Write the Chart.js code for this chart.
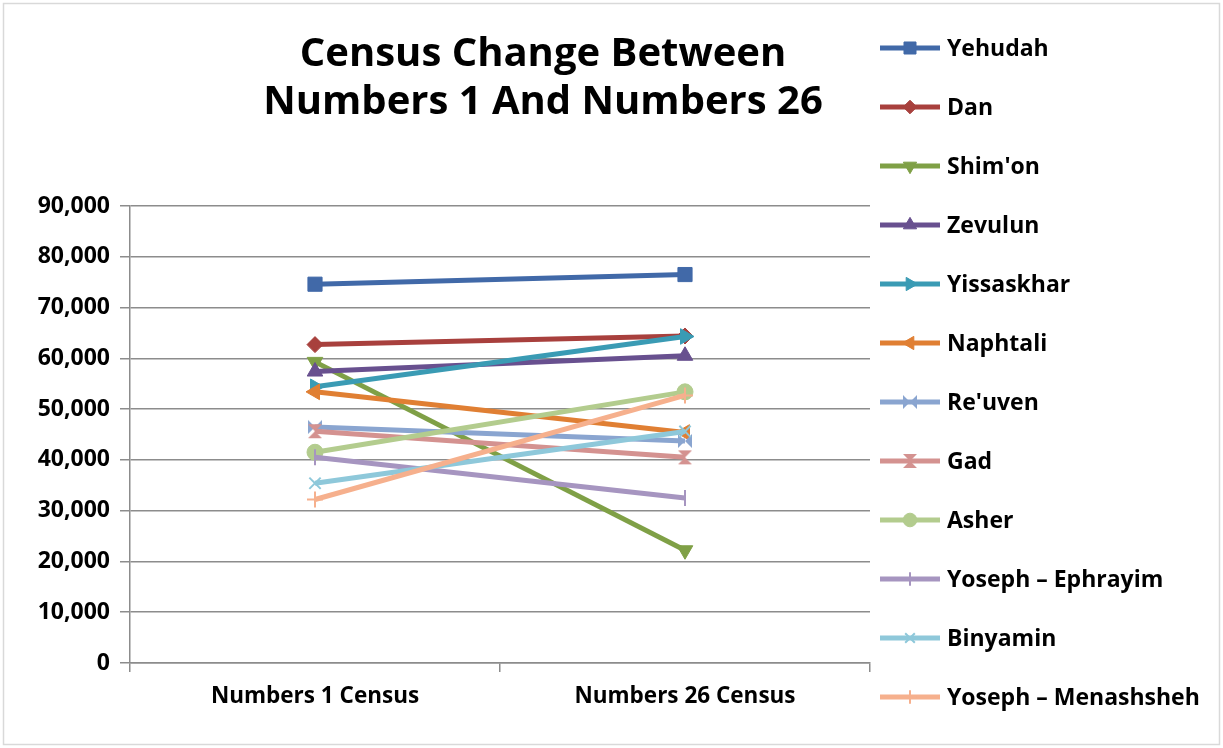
<!DOCTYPE html>
<html>
<head>
<meta charset="utf-8">
<script src="https://cdn.jsdelivr.net/npm/chart.js@4.4.1/dist/chart.umd.min.js"></script>
<style>
  html, body { margin: 0; padding: 0; background: #fff; }
  #wrap { width: 1223px; height: 748px; }
</style>
</head>
<body>
<div id="wrap"><canvas id="censusChart"></canvas></div>
<script>
// census figures, Numbers 1 vs Numbers 26
const censusLabels = ['Numbers 1 Census', 'Numbers 26 Census'];
const tribeNames = ['Yehudah', 'Dan', "Shim'on", 'Zevulun', 'Yissaskhar', 'Naphtali',
  "Re'uven", 'Gad', 'Asher', 'Yoseph \u2013 Ephrayim', 'Binyamin', 'Yoseph \u2013 Menashsheh'];
const numbers1 = [74600, 62700, 59300, 57400, 54400, 53400, 46500, 45650, 41500, 40500, 35400, 32200];
const numbers26 = [76500, 64400, 22200, 60500, 64300, 45400, 43730, 40500, 53400, 32500, 45600, 52700];
const yMin = 0, yMax = 90000, yStep = 10000;

const colors = ['#4169a8', '#a8403d', '#7fa046', '#68508f', '#3a9bb4', '#e07f33',
  '#8aa5d0', '#d49290', '#b3cc8e', '#a695c0', '#8ec8da', '#f6b08d'];

function bowtie(color, vertical) {
  const c = document.createElement('canvas');
  c.width = c.height = 16;
  const g = c.getContext('2d');
  g.fillStyle = color;
  g.beginPath();
  if (vertical) {
    g.moveTo(1, 1); g.lineTo(15, 1); g.lineTo(8, 8); g.closePath();
    g.moveTo(1, 15); g.lineTo(15, 15); g.lineTo(8, 8); g.closePath();
  } else {
    g.moveTo(1, 1); g.lineTo(1, 15); g.lineTo(8, 8); g.closePath();
    g.moveTo(15, 1); g.lineTo(15, 15); g.lineTo(8, 8); g.closePath();
  }
  g.fill();
  return c;
}

// marker per series, roughly like the office defaults
const markers = [
  { style: 'rect', r: 10, rot: 0, bw: 1 },
  { style: 'rectRot', r: 8, rot: 0, bw: 1 },
  { style: 'triangle', r: 9, rot: 180, bw: 1 },
  { style: 'triangle', r: 9, rot: 0, bw: 1 },
  { style: 'triangle', r: 9, rot: 90, bw: 1 },
  { style: 'triangle', r: 9, rot: -90, bw: 1 },
  { style: bowtie(colors[6], false), r: 8, rot: 0, bw: 1 },
  { style: bowtie(colors[7], true), r: 8, rot: 0, bw: 1 },
  { style: 'circle', r: 8, rot: 0, bw: 1 },
  { style: 'line', r: 8, rot: 90, bw: 2 },
  { style: 'crossRot', r: 8, rot: 0, bw: 2 },
  { style: 'cross', r: 8, rot: 0, bw: 2 }
];

const FONT = '"Open Sans", Lato, sans-serif';

const datasets = tribeNames.map((name, i) => ({
  label: name,
  data: [numbers1[i], numbers26[i]],
  borderColor: colors[i],
  backgroundColor: colors[i],
  borderWidth: 5,
  pointStyle: markers[i].style,
  pointRadius: markers[i].r,
  pointRotation: markers[i].rot,
  pointBorderWidth: markers[i].bw,
  pointBackgroundColor: colors[i],
  pointBorderColor: colors[i],
  order: tribeNames.length - i
}));

const decor = {
  id: 'decor',
  beforeDraw(chart) {
    const ctx = chart.ctx;
    ctx.save();
    ctx.fillStyle = '#fff';
    ctx.fillRect(0, 0, chart.width, chart.height);
    ctx.strokeStyle = '#d9d9d9';
    ctx.lineWidth = 1.5;
    ctx.strokeRect(3.5, 3.5, chart.width - 7, chart.height - 7);
    ctx.restore();
  },
  afterDraw(chart) {
    const ctx = chart.ctx;
    ctx.save();
    // title
    ctx.fillStyle = '#000';
    ctx.font = 'bold 40px ' + FONT;
    ctx.textAlign = 'center';
    ctx.textBaseline = 'middle';
    ctx.fillText('Census Change Between', 543, 55);
    ctx.fillText('Numbers 1 And Numbers 26', 543, 103);

    // legend
    const lx = 880, ly = 48, step = 59;
    chart.data.datasets.forEach((ds, i) => {
      const y = ly + i * step;
      ctx.strokeStyle = ds.borderColor;
      ctx.lineWidth = 5;
      ctx.beginPath();
      ctx.moveTo(lx, y);
      ctx.lineTo(lx + 60, y);
      ctx.stroke();
      ctx.fillStyle = ds.pointBackgroundColor;
      ctx.strokeStyle = ds.pointBorderColor;
      ctx.lineWidth = ds.pointBorderWidth;
      Chart.helpers.drawPoint(ctx, {
        pointStyle: ds.pointStyle,
        radius: ds.pointRadius * 0.85,
        rotation: ds.pointRotation,
        borderWidth: ds.pointBorderWidth
      }, lx + 30, y);
      ctx.fillStyle = '#000';
      ctx.font = 'bold 23px ' + FONT;
      ctx.textAlign = 'left';
      ctx.textBaseline = 'middle';
      ctx.fillText(ds.label, lx + 67, y + 1);
    });
    ctx.restore();
  }
};

new Chart(document.getElementById('censusChart'), {
  type: 'line',
  data: { labels: censusLabels, datasets: datasets },
  options: {
    responsive: true,
    maintainAspectRatio: false,
    animation: false,
    layout: { padding: { left: 0, right: 353, top: 206, bottom: 0 } },
    plugins: {
      legend: { display: false },
      title: { display: false },
      tooltip: { enabled: false }
    },
    scales: {
      x: {
        offset: true,
        grid: {
          offset: true,
          drawOnChartArea: false,
          drawTicks: true,
          tickLength: 9,
          color: '#8c8c8c',
          lineWidth: 1.5
        },
        border: { display: true, color: '#8c8c8c', width: 1.5 },
        ticks: { color: '#000', font: { family: FONT, size: 22.5, weight: 'bold' }, padding: 11 },
        afterFit(scale) { scale.height = 85; }
      },
      y: {
        min: yMin,
        max: yMax,
        ticks: {
          stepSize: yStep,
          color: '#000',
          padding: 10,
          font: { family: FONT, size: 23, weight: 'bold' },
          callback: v => v.toLocaleString('en-US')
        },
        grid: { color: '#8c8c8c', lineWidth: 1.5, tickLength: 10 },
        border: { display: true, color: '#8c8c8c', width: 1.5 },
        afterFit(scale) { scale.width = 130; }
      }
    }
  },
  plugins: [decor]
});
</script>
</body>
</html>
